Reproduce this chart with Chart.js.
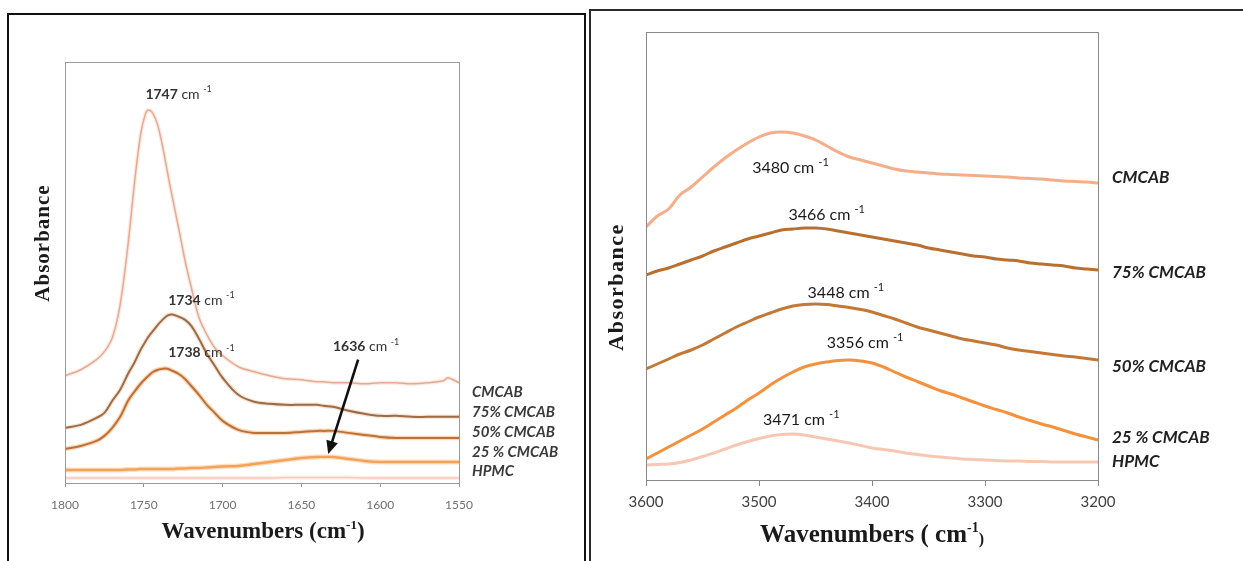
<!DOCTYPE html>
<html>
<head>
<meta charset="utf-8">
<script src="https://cdn.jsdelivr.net/npm/chart.js@4.4.0/dist/chart.umd.min.js"></script>
<style>
  html, body { margin: 0; padding: 0; background: #ffffff; width: 1243px; height: 561px; overflow: hidden; }
  .frame { position: absolute; box-sizing: border-box; background: #fff; }
  #frameL { left: 7px; top: 13px; width: 579px; height: 600px; border: 2px solid #111; }
  #frameR { left: 589px; top: 9px; width: 700px; height: 600px; border: 2px solid #2a2a2a; }
  canvas { position: absolute; left: 0; top: 0; }
</style>
</head>
<body>
<div class="frame" id="frameL"></div>
<div class="frame" id="frameR"></div>
<canvas id="cL" width="1243" height="561"></canvas>
<canvas id="cR" width="1243" height="561"></canvas>
<script>
// ---------------- DATA ----------------
const seriesNames = ['CMCAB', '75% CMCAB', '50% CMCAB', '25 % CMCAB', 'HPMC'];

// Left panel: 1800-1550 cm-1 (absorbance, arbitrary offset units)
const leftWavenumbers = [1800,1790,1780,1775,1770,1765,1760,1756,1752,1749,1747,1744,1741,1738,1735,1732,1728,1724,1720,1715,1710,1705,1700,1690,1680,1670,1660,1650,1640,1636,1630,1620,1610,1600,1590,1580,1570,1560,1557,1550];
const leftCMCAB = [10.7,11.3,12.3,13.1,14.5,17.8,23.8,29.8,34.8,36.8,37.2,36.8,35.6,33.5,31.0,28.6,25.5,22.3,19.6,16.5,14.8,13.5,12.7,11.6,11.1,10.7,10.4,10.3,10.1,10.1,10.0,10.0,9.9,10.0,10.0,9.9,10.0,10.2,10.5,10.0];
const left75 = [5.5,5.8,6.5,7.0,8.2,9.3,10.9,12.0,13.3,14.1,14.6,15.2,15.8,16.3,16.7,16.8,16.6,16.3,15.7,14.4,12.9,11.7,10.5,8.8,8.1,7.9,7.8,7.8,7.8,7.7,7.6,7.2,6.9,6.7,6.7,6.6,6.6,6.6,6.6,6.6];
const left50 = [3.4,3.7,4.2,4.7,5.5,6.6,8.2,9.1,9.9,10.4,10.7,11.1,11.3,11.4,11.4,11.2,10.9,10.4,9.7,8.8,7.8,7.0,6.2,5.3,5.0,5.0,5.0,5.1,5.2,5.2,5.2,5.0,4.8,4.6,4.5,4.5,4.5,4.5,4.5,4.5];
const left25 = [1.3,1.3,1.3,1.3,1.3,1.3,1.35,1.35,1.4,1.4,1.4,1.4,1.4,1.4,1.4,1.4,1.45,1.45,1.5,1.5,1.55,1.6,1.65,1.7,1.9,2.1,2.3,2.5,2.6,2.6,2.6,2.4,2.2,2.1,2.1,2.1,2.1,2.1,2.1,2.1];
const leftHPMC = [0.5,0.5,0.5,0.5,0.5,0.5,0.5,0.5,0.5,0.5,0.5,0.5,0.5,0.5,0.5,0.5,0.5,0.5,0.5,0.5,0.5,0.5,0.5,0.5,0.5,0.5,0.55,0.55,0.55,0.55,0.55,0.55,0.5,0.5,0.5,0.5,0.5,0.5,0.5,0.5];
const leftTicks = [1800, 1750, 1700, 1650, 1600, 1550];

// Right panel: 3600-3200 cm-1
const rightWavenumbers = [3600,3590,3580,3570,3560,3550,3540,3530,3520,3510,3500,3490,3480,3470,3460,3450,3440,3430,3420,3410,3400,3390,3380,3370,3360,3350,3340,3330,3320,3310,3300,3290,3280,3270,3260,3250,3240,3230,3220,3210,3200];
const rightCMCAB = [25.3,26.4,27.1,28.5,29.3,30.3,31.3,32.2,33.0,33.7,34.3,34.7,34.8,34.7,34.4,34.0,33.4,32.8,32.3,32.0,31.7,31.4,31.1,30.9,30.8,30.7,30.6,30.55,30.5,30.45,30.4,30.35,30.3,30.2,30.15,30.1,30.0,29.9,29.85,29.8,29.7];
const right75 = [20.5,20.9,21.2,21.6,22.0,22.4,22.9,23.3,23.7,24.1,24.4,24.7,25.0,25.1,25.2,25.2,25.1,24.9,24.7,24.5,24.3,24.1,23.9,23.7,23.5,23.2,23.0,22.8,22.6,22.4,22.3,22.1,22.0,21.9,21.7,21.6,21.5,21.4,21.2,21.1,21.0];
const right50 = [11.1,11.6,12.1,12.6,13.0,13.5,14.1,14.7,15.3,15.8,16.3,16.7,17.1,17.4,17.55,17.6,17.55,17.4,17.25,17.05,16.8,16.45,16.1,15.7,15.3,15.0,14.7,14.4,14.1,13.9,13.7,13.5,13.2,13.0,12.85,12.7,12.55,12.4,12.3,12.15,12.0];
const right25 = [2.1,2.7,3.3,3.9,4.5,5.1,5.8,6.5,7.2,8.0,8.7,9.5,10.2,10.8,11.3,11.6,11.8,11.95,12.0,11.9,11.7,11.3,10.8,10.3,9.85,9.4,8.95,8.6,8.2,7.8,7.4,7.05,6.7,6.3,5.95,5.6,5.3,4.95,4.6,4.3,4.0];
const rightHPMC = [1.5,1.55,1.6,1.75,2.0,2.35,2.7,3.1,3.5,3.85,4.15,4.4,4.55,4.6,4.5,4.3,4.1,3.9,3.7,3.45,3.2,3.05,2.9,2.7,2.55,2.4,2.3,2.2,2.1,2.05,2.0,1.95,1.9,1.9,1.85,1.85,1.8,1.8,1.8,1.8,1.8];
const rightTicks = [3600, 3500, 3400, 3300, 3200];

// Peak annotations: [label number, wavenumber anchor (left edge of text), absorbance level]
const leftPeaks = [['1747', 1749, 38.8], ['1734', 1734.5, 18.2], ['1738', 1734.5, 13.0], ['1636', 1630, 13.6]];
const leftArrow = { from: [1614, 12.3], to: [1633, 2.9] };
const leftLabelLevels = [9.1, 7.1, 5.1, 3.1, 1.2];
const rightPeaks = [['3480', 3506, 31.2], ['3466', 3474, 26.5], ['3448', 3457, 18.7], ['3356', 3440, 13.7], ['3471', 3496.5, 6.0]];
const rightLabelLevels = [30.2, 20.7, 11.3, 4.2, 1.8];

// ---------------- STYLE ----------------
const leftColors = ['#D99E8C', '#7B5233', '#94592E', '#F0903C', '#F5C4B2'];
const leftWidths = [1.5, 2.0, 2.0, 2.4, 1.5];
const leftHalo = ['rgba(245,195,170,0.35)', 'rgba(230,170,120,0.3)', 'rgba(245,150,70,0.4)', 'rgba(250,185,125,0.45)', 'rgba(250,215,200,0.45)'];
const rightColors = ['#F5AD8A', '#B86F30', '#C47835', '#F5903C', '#F8C7B3'];
const serif = '"Liberation Serif", "DejaVu Serif", serif';
const sans = 'Lato, "Open Sans", sans-serif';

function series(xs, ys) { return xs.map((x, i) => ({ x: x, y: ys[i] })); }

function drawRich(ctx, parts, x, y, align) {
  let total = 0;
  parts.forEach(p => { ctx.font = p.f; p.w = ctx.measureText(p.t).width; total += p.w; });
  let cx = align === 'center' ? x - total / 2 : x;
  parts.forEach(p => {
    ctx.font = p.f;
    ctx.fillText(p.t, cx, y + (p.dy || 0));
    cx += p.w;
  });
}

const decorPlugin = {
  id: 'decor',
  afterDraw(chart, args, o) {
    const ctx = chart.ctx, a = chart.chartArea;
    const xs = chart.scales.x, ys = chart.scales.y;
    ctx.save();
    ctx.strokeStyle = o.frameColor; ctx.lineWidth = 1;
    ctx.strokeRect(Math.round(a.left) + 0.5, Math.round(a.top) + 0.5, Math.round(a.right - a.left), Math.round(a.bottom - a.top));
    ctx.textBaseline = 'middle';
    ctx.fillStyle = o.labelColor; ctx.textAlign = 'left';
    ctx.font = o.labelFont;
    seriesNames.forEach((n, i) => ctx.fillText(n, a.right + o.labelGap, ys.getPixelForValue(o.labelLevels[i])));
    o.peaks.forEach(p => {
      const px = xs.getPixelForValue(p[1]), py = ys.getPixelForValue(p[2]);
      ctx.fillStyle = o.peakColor;
      drawRich(ctx, [
        { t: p[0], f: o.peakNumFont },
        { t: ' cm ', f: o.peakFont },
        { t: '-1', f: o.supFont, dy: o.supDy }
      ], px, py, 'left');
    });
    if (o.arrow) {
      const x1 = xs.getPixelForValue(o.arrow.from[0]), y1 = ys.getPixelForValue(o.arrow.from[1]);
      const x2 = xs.getPixelForValue(o.arrow.to[0]), y2 = ys.getPixelForValue(o.arrow.to[1]);
      const ang = Math.atan2(y2 - y1, x2 - x1), hl = 13, hw = 6;
      ctx.strokeStyle = '#111'; ctx.lineWidth = 2.6;
      ctx.beginPath(); ctx.moveTo(x1, y1);
      ctx.lineTo(x2 - Math.cos(ang) * hl * 0.8, y2 - Math.sin(ang) * hl * 0.8); ctx.stroke();
      ctx.fillStyle = '#111'; ctx.beginPath();
      ctx.moveTo(x2, y2);
      ctx.lineTo(x2 - Math.cos(ang) * hl - Math.sin(ang) * hw, y2 - Math.sin(ang) * hl + Math.cos(ang) * hw);
      ctx.lineTo(x2 - Math.cos(ang) * hl + Math.sin(ang) * hw, y2 - Math.sin(ang) * hl - Math.cos(ang) * hw);
      ctx.closePath(); ctx.fill();
    }
    ctx.fillStyle = '#1a1a1a';
    ctx.textBaseline = 'alphabetic';
    drawRich(ctx, o.xTitle, o.xTitlePos[0], o.xTitlePos[1], 'center');
    ctx.save();
    ctx.translate(o.yTitlePos[0], o.yTitlePos[1]);
    ctx.rotate(-Math.PI / 2);
    ctx.font = o.yTitleFont; ctx.textAlign = 'center'; ctx.textBaseline = 'middle';
    ctx.letterSpacing = o.yTitleSpacing;
    ctx.fillText('Absorbance', 0, 0);
    ctx.restore();
    ctx.restore();
  }
};

function makeChart(id, cfg) {
  const datasets = [];
  cfg.values.forEach((vals, i) => {
    if (cfg.halo) {
      datasets.push({ data: series(cfg.wn, vals), borderColor: cfg.halo[i], borderWidth: cfg.widths[i] + 2.5,
        pointRadius: 0, tension: 0.35, fill: false });
    }
    datasets.push({ label: seriesNames[i], data: series(cfg.wn, vals), borderColor: cfg.colors[i],
      borderWidth: cfg.widths[i], pointRadius: 0, tension: 0.35, fill: false });
  });
  return new Chart(document.getElementById(id), {
    type: 'line',
    data: { datasets: datasets },
    plugins: [decorPlugin],
    options: {
      responsive: false, animation: false, devicePixelRatio: 1,
      layout: { padding: cfg.padding },
      plugins: { legend: { display: false }, tooltip: { enabled: false }, decor: cfg.decor },
      scales: {
        x: {
          type: 'linear', reverse: true, min: cfg.min, max: cfg.max,
          afterFit: s => { s.height = 30; },
          afterBuildTicks: s => { s.ticks = cfg.ticks.map(v => ({ value: v })); },
          ticks: { callback: v => String(v), font: cfg.tickFont, color: cfg.tickColor, padding: cfg.tickPad, maxRotation: 0, autoSkip: false },
          grid: { display: true, drawOnChartArea: false, drawTicks: true, tickLength: cfg.tickLen, color: cfg.frameColor },
          border: { display: false }
        },
        y: { display: false, min: 0, max: cfg.ymax }
      }
    }
  });
}

makeChart('cL', {
  wn: leftWavenumbers, values: [leftCMCAB, left75, left50, left25, leftHPMC],
  colors: leftColors, widths: leftWidths, halo: leftHalo,
  padding: { left: 65, right: 784, top: 62, bottom: 48 },
  min: 1550, max: 1800, ymax: 42, ticks: leftTicks,
  tickFont: { family: sans, size: 12 }, tickColor: '#707070', tickPad: 11, tickLen: 4, frameColor: '#9a9a9a',
  decor: {
    frameColor: '#9a9a9a', labelColor: '#3a3a3a', labelFont: 'italic bold 15px ' + sans, labelGap: 13, labelLevels: leftLabelLevels,
    peaks: leftPeaks, peakColor: '#333', peakNumFont: 'bold 14px ' + sans, peakFont: '14px ' + sans, supFont: '9px ' + sans, supDy: -5,
    arrow: leftArrow,
    xTitle: [{ t: 'Wavenumbers (cm', f: 'bold 23px ' + serif }, { t: '-1', f: 'bold 13px ' + serif, dy: -9 }, { t: ')', f: 'bold 23px ' + serif }],
    xTitlePos: [263, 538], yTitlePos: [44, 243], yTitleFont: 'bold 21px ' + serif, yTitleSpacing: '1px'
  }
});

makeChart('cR', {
  wn: rightWavenumbers, values: [rightCMCAB, right75, right50, right25, rightHPMC],
  colors: rightColors, widths: [3, 3, 3, 3, 3], halo: null,
  padding: { left: 646, right: 145, top: 32, bottom: 51 },
  min: 3200, max: 3600, ymax: 44.8, ticks: rightTicks,
  tickFont: { family: sans, size: 15 }, tickColor: '#404040', tickPad: 7, tickLen: 6, frameColor: '#8a8a8a',
  decor: {
    frameColor: '#8a8a8a', labelColor: '#222', labelFont: 'italic bold 17px ' + sans, labelGap: 14, labelLevels: rightLabelLevels,
    peaks: rightPeaks, peakColor: '#1a1a1a', peakNumFont: '16px ' + sans, peakFont: '16px ' + sans, supFont: '11px ' + sans, supDy: -6,
    arrow: null,
    xTitle: [{ t: 'Wavenumbers ( cm', f: 'bold 25px ' + serif }, { t: '-1', f: 'bold 14px ' + serif, dy: -10 }, { t: ')', f: 'bold 16px ' + serif, dy: 2 }],
    xTitlePos: [872, 542], yTitlePos: [617, 287], yTitleFont: 'bold 22px ' + serif, yTitleSpacing: '1.5px'
  }
});
</script>
</body>
</html>
